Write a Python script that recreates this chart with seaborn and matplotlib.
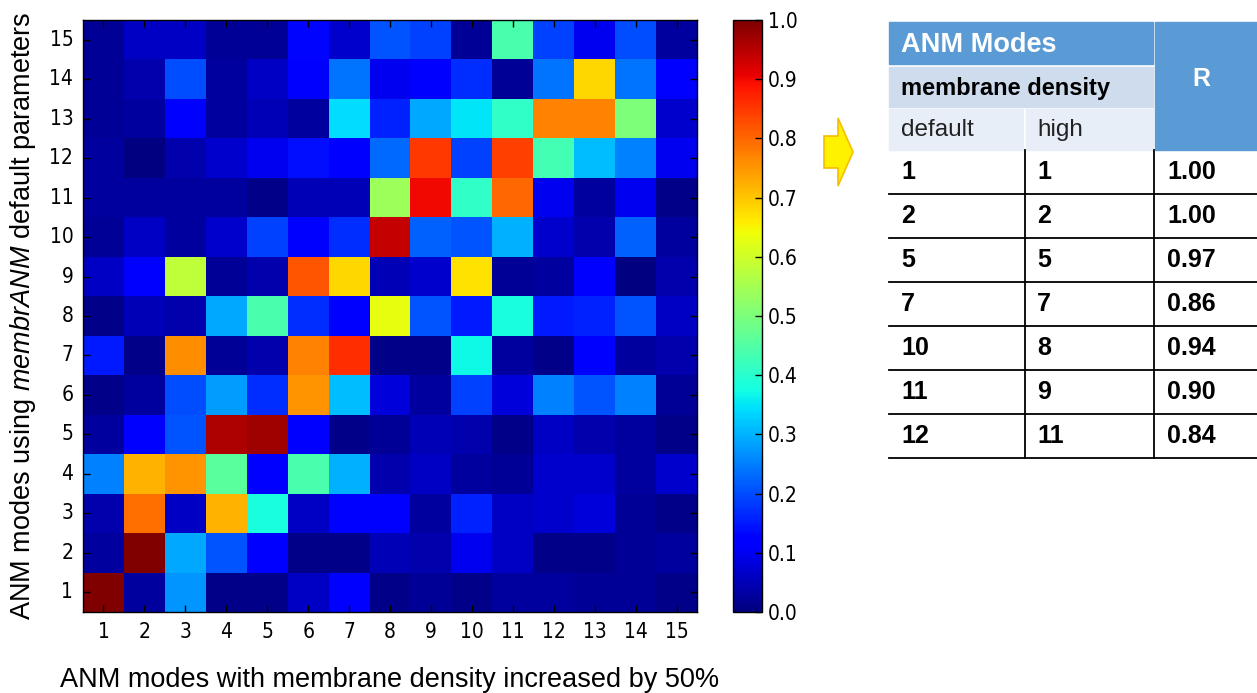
import numpy as np
import pandas as pd
import seaborn as sns
import matplotlib.pyplot as plt
from matplotlib.patches import Rectangle, Polygon

# ========= data =========
modes = list(range(1, 16))

# overlap of default-parameter modes (rows, 1..15) with high-density modes (cols, 1..15)
overlap = [
    [1.00, 0.03, 0.27, 0.01, 0.01, 0.06, 0.12, 0.01, 0.02, 0.01, 0.03, 0.03, 0.02, 0.02, 0.01],  # 1
    [0.03, 1.00, 0.29, 0.21, 0.12, 0.01, 0.01, 0.05, 0.04, 0.10, 0.06, 0.01, 0.01, 0.02, 0.03],  # 2
    [0.04, 0.79, 0.06, 0.72, 0.38, 0.06, 0.12, 0.12, 0.03, 0.16, 0.06, 0.07, 0.08, 0.02, 0.01],  # 3
    [0.25, 0.72, 0.75, 0.46, 0.12, 0.44, 0.30, 0.04, 0.06, 0.03, 0.02, 0.07, 0.07, 0.03, 0.07],  # 4
    [0.03, 0.12, 0.21, 0.96, 0.97, 0.11, 0.01, 0.02, 0.05, 0.04, 0.01, 0.06, 0.04, 0.03, 0.01],  # 5
    [0.01, 0.03, 0.20, 0.28, 0.17, 0.75, 0.31, 0.08, 0.03, 0.19, 0.08, 0.25, 0.21, 0.25, 0.02],  # 6
    [0.15, 0.01, 0.76, 0.02, 0.04, 0.77, 0.86, 0.01, 0.01, 0.37, 0.03, 0.01, 0.12, 0.03, 0.04],  # 7
    [0.01, 0.05, 0.04, 0.29, 0.44, 0.17, 0.12, 0.63, 0.21, 0.15, 0.38, 0.15, 0.16, 0.21, 0.06],  # 8
    [0.06, 0.12, 0.58, 0.02, 0.04, 0.82, 0.68, 0.05, 0.07, 0.67, 0.02, 0.03, 0.12, 0.00, 0.04],  # 9
    [0.02, 0.06, 0.03, 0.07, 0.19, 0.11, 0.17, 0.94, 0.22, 0.21, 0.30, 0.07, 0.04, 0.22, 0.03],  # 10
    [0.03, 0.03, 0.03, 0.03, 0.01, 0.05, 0.05, 0.54, 0.90, 0.41, 0.80, 0.10, 0.03, 0.10, 0.01],  # 11
    [0.03, 0.00, 0.04, 0.07, 0.10, 0.14, 0.12, 0.23, 0.85, 0.19, 0.84, 0.43, 0.31, 0.25, 0.10],  # 12
    [0.02, 0.03, 0.12, 0.03, 0.05, 0.03, 0.34, 0.16, 0.29, 0.35, 0.41, 0.77, 0.77, 0.50, 0.07],  # 13
    [0.02, 0.04, 0.20, 0.03, 0.06, 0.12, 0.24, 0.10, 0.12, 0.17, 0.02, 0.24, 0.68, 0.24, 0.12],  # 14
    [0.02, 0.06, 0.06, 0.02, 0.02, 0.13, 0.07, 0.21, 0.19, 0.02, 0.44, 0.19, 0.10, 0.20, 0.03],  # 15
]

cbar_ticks = np.round(np.arange(0, 1.01, 0.1), 1)

# table of matched modes
default_modes = ["1", "2", "5", "7", "10", "11", "12"]
high_modes = ["1", "2", "5", "7", "8", "9", "11"]
r_values = [1.00, 1.00, 0.97, 0.86, 0.94, 0.90, 0.84]

# ========= figure =========
plt.rcParams["mathtext.fontset"] = "custom"
plt.rcParams["mathtext.rm"] = "Liberation Sans"
plt.rcParams["mathtext.it"] = "Liberation Sans:italic"

W, H = 1257, 693
fig = plt.figure(figsize=(W / 100, H / 100), dpi=100)

# overlay in pixel coords for the table and arrow
ov = fig.add_axes([0, 0, 1, 1])
ov.set_xlim(0, W)
ov.set_ylim(H, 0)
ov.axis("off")

ax = fig.add_axes([83 / W, 1 - 612 / H, 614 / W, 592 / H])
cax = fig.add_axes([733 / W, 1 - 612 / H, 29 / W, 592 / H])

df = pd.DataFrame(overlap, index=modes, columns=modes)
sns.heatmap(df, ax=ax, cbar_ax=cax, cmap="jet", vmin=0, vmax=1,
            square=False, cbar_kws={"ticks": cbar_ticks})
ax.invert_yaxis()
cbar = ax.collections[0].colorbar

for sp in ax.spines.values():
    sp.set_visible(True)
    sp.set_color("black")
    sp.set_linewidth(1.0)

tick_font = {"family": "DejaVu Sans", "size": 15, "stretch": "condensed"}
ax.set_xticklabels(modes, rotation=0, fontdict=tick_font)
ax.set_yticklabels(modes, rotation=0, fontdict=tick_font)
ax.tick_params(direction="in", top=True, right=True, length=5, width=1,
               color="black", pad=7)

ax.set_xlabel("ANM modes with membrane density increased by 50%",
              family="Liberation Sans", fontsize=19.5, labelpad=18)
ax.set_ylabel("ANM modes using $\\it{membrANM}$ default parameters",
              family="Liberation Sans", fontsize=19.5, labelpad=8)

cax.tick_params(direction="in", length=5, width=1, color="black", pad=4,
                labelsize=15)
cax.set_yticklabels([f"{t:.1f}" for t in cbar_ticks],
                    family="DejaVu Sans", stretch="condensed")
cbar.outline.set_linewidth(1.0)
cbar.outline.set_edgecolor("black")

# ========= arrow =========
arrow = Polygon([(824, 136), (838, 136), (838, 118), (853, 152),
                 (838, 186), (838, 168), (824, 168)],
                closed=True, facecolor="#FFF200", edgecolor="#F7BE00", lw=1.2)
ov.add_patch(arrow)

# ========= table =========
blue = "#5B9BD5"
light1 = "#CFDCEE"
light2 = "#E8EEF7"

ov.add_patch(Rectangle((889, 22), 264, 42, color=blue))
ov.add_patch(Rectangle((1155, 22), 110, 128, color=blue))
ov.add_patch(Rectangle((889, 67), 264, 40, color=light1))
ov.add_patch(Rectangle((889, 109), 134, 41, color=light2))
ov.add_patch(Rectangle((1026, 109), 127, 41, color=light2))

ov.text(901, 45, "ANM Modes", color="white", fontsize=19.5, fontweight="bold",
        family="Liberation Sans", va="center", ha="left")
ov.text(1201, 79, "R", color="white", fontsize=18, fontweight="bold",
        family="Liberation Sans", va="center", ha="center")
ov.text(901, 88, "membrane density", color="black", fontsize=17,
        fontweight="bold", family="Liberation Sans", va="center", ha="left")
ov.text(901, 130, "default", color="#222222", fontsize=17.5,
        family="Liberation Sans", va="center", ha="left")
ov.text(1037, 130, "high", color="#222222", fontsize=17.5,
        family="Liberation Sans", va="center", ha="left")

row_h = 44
y0 = 150
for i, (d, h, r) in enumerate(zip(default_modes, high_modes, r_values)):
    yc = y0 + row_h * i + row_h / 2
    ov.text(901, yc, d, fontsize=18, fontweight="bold",
            family="Liberation Sans", va="center", ha="left")
    ov.text(1037, yc, h, fontsize=18, fontweight="bold",
            family="Liberation Sans", va="center", ha="left")
    ov.text(1167, yc, f"{r:.2f}", fontsize=18, fontweight="bold",
            family="Liberation Sans", va="center", ha="left")
    ov.plot([889, W], [y0 + row_h * (i + 1)] * 2, color="black", lw=1.3)

y_end = y0 + row_h * len(r_values)
ov.plot([1025, 1025], [y0, y_end], color="black", lw=1.3)
ov.plot([1154, 1154], [y0, y_end], color="black", lw=1.3)

fig.savefig("out.png", dpi=100)
